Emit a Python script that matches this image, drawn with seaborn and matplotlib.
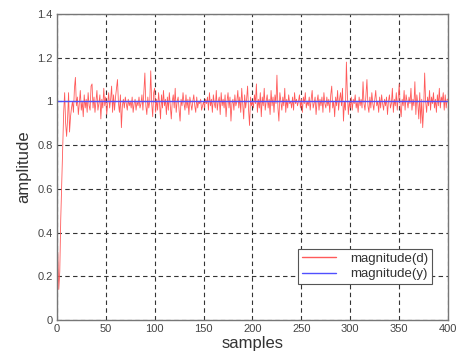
import numpy as np
import pandas as pd
import matplotlib
matplotlib.use("Agg")
import matplotlib.pyplot as plt
import seaborn as sns
from matplotlib.ticker import FuncFormatter

# magnitude(d): noisy estimate, read off the picture sample by sample
mag_d = [
    0.00, 0.31, 0.14, 0.22, 0.46, 0.62, 0.78, 0.95, 1.04, 0.90, 0.84, 0.92, 1.04, 0.86, 0.93, 0.97, 1.00, 0.95, 1.06, 1.11,
    0.98, 1.02, 0.94, 0.99, 1.05, 0.96, 1.00, 0.93, 1.03, 0.97, 1.01, 0.95, 1.04, 0.98, 0.96, 1.07, 1.08, 0.97, 1.02, 0.95,
    1.00, 1.05, 0.96, 0.99, 1.03, 0.92, 1.01, 0.97, 1.06, 0.98, 1.02, 0.94, 0.99, 1.04, 0.97, 1.01, 1.07, 0.95, 1.03, 0.96,
    1.02, 1.06, 1.10, 0.99, 0.95, 1.03, 0.88, 0.98, 1.01, 0.97, 1.02, 0.99, 0.96, 1.01, 0.98, 1.00, 0.97, 1.02, 0.95, 0.99,
    1.01, 0.96, 1.00, 0.98, 1.02, 0.97, 0.99, 1.03, 0.96, 1.05, 1.13, 0.98, 0.94, 1.02, 0.97, 1.00, 1.14, 0.99, 0.93, 1.04,
    1.06, 0.95, 1.01, 0.96, 1.04, 0.99, 0.92, 1.03, 0.97, 1.05, 0.98, 1.01, 0.94, 1.02, 0.96, 1.04, 0.98, 0.92, 1.00, 1.03,
    0.97, 1.06, 0.95, 1.00, 1.02, 0.96, 0.91, 1.01, 0.98, 1.04, 0.99, 0.96, 1.03, 0.97, 1.01, 0.94, 1.02, 0.99, 0.96, 1.00,
    1.03, 0.98, 0.95, 1.02, 0.97, 1.00, 0.99, 1.01, 0.96, 0.98, 1.00, 0.97, 1.01, 0.99, 1.02, 0.96, 1.04, 0.98, 1.01, 0.95,
    1.03, 0.99, 0.97, 1.05, 0.96, 1.00, 1.02, 0.94, 1.04, 0.98, 1.01, 0.97, 1.03, 0.93, 1.00, 1.04, 0.97, 1.02, 0.91, 0.99,
    1.01, 0.96, 1.03, 0.98, 1.00, 1.05, 0.97, 1.02, 0.95, 1.06, 0.99, 0.92, 1.03, 0.97, 1.01, 1.07, 0.96, 0.89, 1.02, 0.98,
    1.00, 0.97, 1.03, 0.99, 1.08, 0.95, 1.01, 0.97, 1.04, 0.93, 1.02, 0.98, 1.06, 0.96, 1.00, 1.03, 0.97, 1.01, 0.94, 1.05,
    0.98, 1.02, 0.95, 1.03, 0.99, 1.12, 0.97, 0.91, 1.04, 1.00, 0.96, 1.02, 0.98, 1.06, 0.95, 1.01, 0.97, 1.03, 0.99, 1.00,
    0.97, 1.02, 0.96, 1.04, 0.99, 1.01, 0.98, 1.00, 1.03, 0.97, 1.01, 0.95, 1.02, 0.99, 1.04, 0.97, 1.00, 0.98, 1.02, 0.96,
    1.01, 1.05, 0.97, 0.99, 1.02, 0.94, 1.00, 1.03, 0.96, 1.01, 0.98, 1.02, 0.95, 1.04, 0.99, 0.97, 1.02, 0.98, 1.01, 0.95,
    1.03, 1.07, 0.97, 1.00, 0.93, 1.02, 0.98, 1.05, 0.96, 1.01, 1.04, 0.98, 1.06, 0.91, 1.00, 0.96, 1.18, 1.03, 0.94, 1.00,
    0.97, 1.02, 0.96, 1.01, 0.99, 1.03, 0.97, 1.00, 0.95, 1.02, 0.98, 1.01, 0.97, 1.09, 0.99, 0.96, 1.03, 1.10, 0.98, 0.95,
    1.02, 0.97, 1.04, 0.99, 0.96, 1.01, 1.05, 0.98, 1.00, 0.95, 1.02, 0.97, 1.03, 0.99, 0.96, 1.01, 0.98, 1.02, 0.94, 1.00,
    1.03, 0.97, 0.99, 1.06, 0.95, 1.01, 0.98, 1.04, 0.96, 1.02, 1.08, 0.97, 0.93, 1.01, 0.98, 1.05, 0.96, 1.03, 1.00, 0.97,
    1.02, 0.99, 1.06, 0.96, 1.01, 0.98, 1.09, 0.94, 1.03, 0.99, 0.92, 1.04, 0.90, 1.01, 0.88, 0.97, 1.13, 1.00, 0.95, 1.02,
    0.98, 1.05, 0.96, 1.02, 0.99, 1.04, 0.97, 1.01, 0.95, 1.03, 0.98, 1.06, 0.97, 1.02, 1.00, 1.04, 0.96, 1.03, 0.97, 1.01,
    1.01,
]
# magnitude(y): constant reference
mag_y_level = 1.0

samples = np.arange(len(mag_d))
df = pd.DataFrame({"samples": samples, "d": mag_d, "y": [mag_y_level] * len(mag_d)})

sns.set_style("white")
plt.rcParams["font.family"] = ["Liberation Sans", "DejaVu Sans"]

fig = plt.figure(figsize=(4.62, 3.58), dpi=100)
ax = fig.add_axes([0.123, 0.106, 0.847, 0.855])

red = "#ff5a5a"
blue = "#5050ff"
sns.lineplot(x="samples", y="d", data=df, color=red, linewidth=0.6, ax=ax, legend=False)
sns.lineplot(x="samples", y="y", data=df, color=blue, linewidth=1.0, ax=ax, legend=False)

ax.set_xlim(0, 400)
ax.set_ylim(0, 1.4)
ax.set_xticks(np.arange(0, 401, 50))
ax.set_yticks(np.arange(0, 1.41, 0.2))
ax.yaxis.set_major_formatter(FuncFormatter(lambda v, p: "%g" % round(v, 1)))
ax.grid(True, linestyle=(0, (4, 3)), color="#333333", linewidth=0.8)
ax.tick_params(direction="in", length=3, labelsize=8, colors="#444444", pad=3)
for s in ax.spines.values():
    s.set_color("#777777")
    s.set_linewidth(1.0)

ax.set_xlabel("samples", fontsize=12, color="#333333", labelpad=1)
ax.set_ylabel("amplitude", fontsize=12, color="#333333", labelpad=4)

handles = [plt.Line2D([], [], color=red, linewidth=1.0),
           plt.Line2D([], [], color=blue, linewidth=1.0)]
leg = ax.legend(handles, ["magnitude(d)", "magnitude(y)"], loc="lower right",
                bbox_to_anchor=(0.975, 0.095), fontsize=9.5, framealpha=1,
                frameon=True, fancybox=False, handlelength=2.6, borderpad=0.3,
                labelspacing=0.25, handletextpad=1.0)
leg.get_frame().set_edgecolor("#555555")
leg.get_frame().set_linewidth(0.8)
for t in leg.get_texts():
    t.set_color("#333333")

fig.savefig("out.png", dpi=100)
